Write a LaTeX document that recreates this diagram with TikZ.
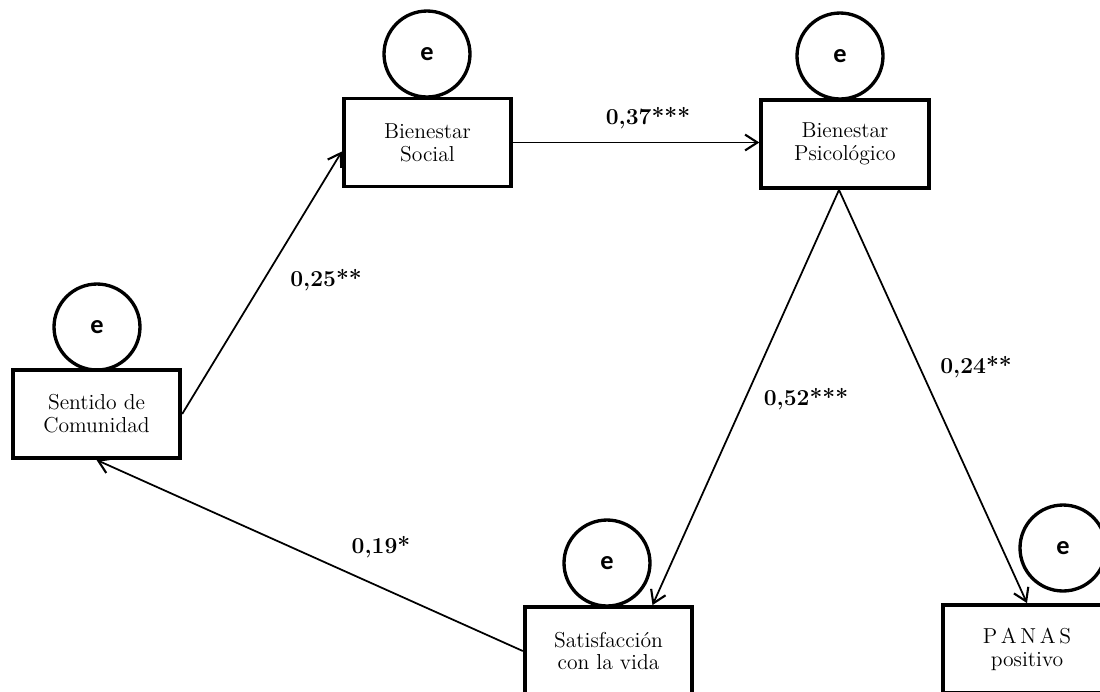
\documentclass[tikz,border=0pt]{standalone}
\usepackage{fontspec}
\newfontfamily\efont{Carlito}
\usetikzlibrary{arrows.meta,positioning,calc}

\begin{document}
\begin{tikzpicture}[
    x=0.02cm, y=-0.02cm,
    var/.style={rectangle, draw=black, line width=2.2pt, minimum width=3.35cm, minimum height=1.76cm,
        inner sep=0pt, align=center, font=\fontsize{12.3}{13}\selectfont},
    err/.style={circle, draw=black, line width=1.9pt, minimum size=1.72cm, inner sep=0pt,
        font=\efont\bfseries\fontsize{15}{15}\selectfont},
    path/.style={-{Straight Barb[length=7pt, width=9pt, line width=1.2pt]}, line width=1pt},
    coef/.style={font=\bfseries\fontsize{13}{13}\selectfont}
]
\clip (0,0) rectangle (1100,691);

% Observed variables
\node[var] (sentido) at (96.5, 414) {Sentido de\\Comunidad};
\node[var] (social) at (427.5, 142.5) {Bienestar\\Social};
\node[var] (psico) at (845, 144) {Bienestar\\Psicol\'ogico};
\node[var] (satis) at (608.5, 651) {Satisfacci\'on\\con la vida};
\node[var] (panas) at (1027, 649) {P\,A\,N\,A\,S\\positivo};

% Error terms
\node[err] (esentido) at (97, 327) {e};
\node[err] (esocial) at (427, 54) {e};
\node[err] (epsico) at (840, 56) {e};
\node[err] (esatis) at (607, 563) {e};
\node[err] (epanas) at (1063, 548) {e};

% Paths
\coordinate (psicoout) at ($(psico.south)+(-6,0)$);
\coordinate (satisin) at ($(satis.north)+(44,0)$);
\draw[path] (sentido.east) -- ($(social.west)+(0,9)$);
\draw[path] (social.east) -- (social.east -| psico.west);
\draw[path] (psicoout) -- (satisin);
\draw[path] (psicoout) -- (panas.north);
\draw[path] (satis.west) -- (sentido.south);

% Coefficients
\node[coef] (c1) at (326, 280) {0,25**};
\node[coef] (c2) at (648, 118) {0,37***};
\node[coef] (c3) at (806, 399) {0,52***};
\node[coef] (c4) at (976, 367) {0,24**};
\node[coef] (c5) at (381, 547) {0,19*};

\end{tikzpicture}
\end{document}
